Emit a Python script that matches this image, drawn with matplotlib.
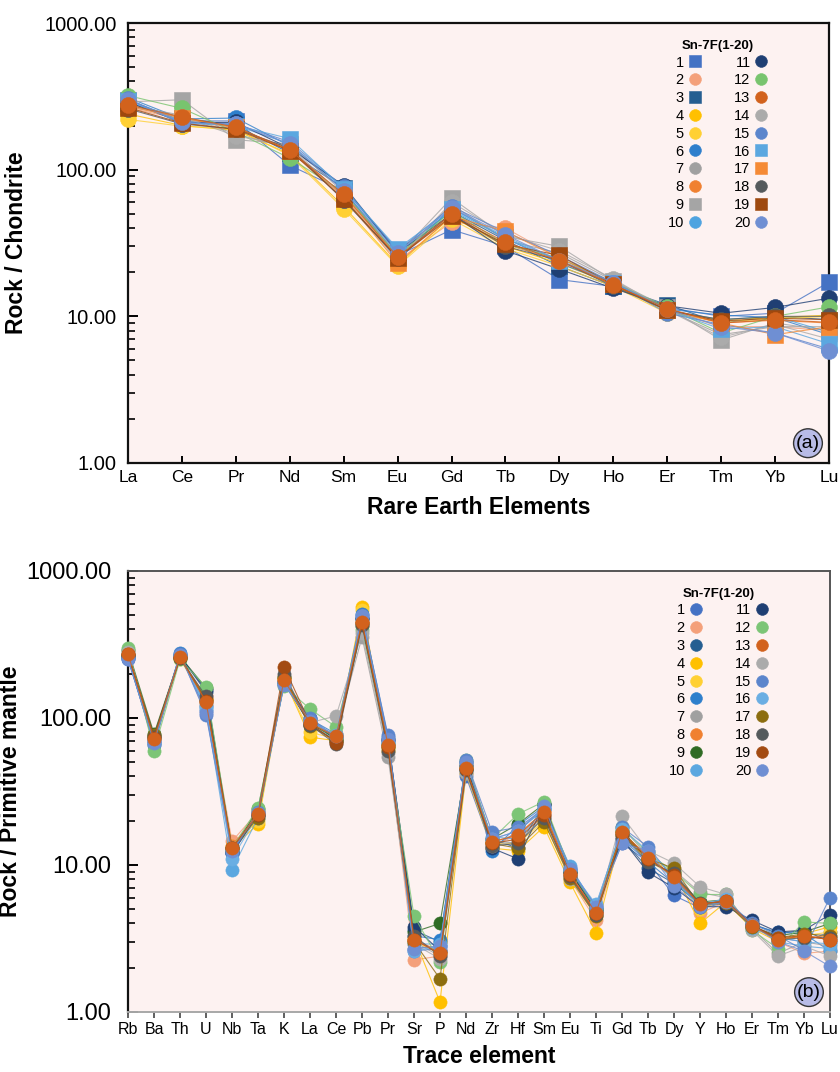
import matplotlib
matplotlib.use('Agg')
import matplotlib.pyplot as plt
from matplotlib.lines import Line2D
from matplotlib.ticker import LogLocator, FixedLocator, NullFormatter

plt.rcParams['font.family'] = ['Liberation Sans', 'DejaVu Sans']

# --- data -----------------------------------------------------------------
ree = ['La', 'Ce', 'Pr', 'Nd', 'Sm', 'Eu', 'Gd', 'Tb', 'Dy', 'Ho', 'Er', 'Tm', 'Yb', 'Lu']
trace = ['Rb', 'Ba', 'Th', 'U', 'Nb', 'Ta', 'K', 'La', 'Ce', 'Pb', 'Pr', 'Sr', 'P', 'Nd',
         'Zr', 'Hf', 'Sm', 'Eu', 'Ti', 'Gd', 'Tb', 'Dy', 'Y', 'Ho', 'Er', 'Tm', 'Yb', 'Lu']
samples = [str(i) for i in range(1, 21)]

# chondrite normalised REE, samples 1-20
ree_vals = [
    [300, 215, 215, 107, 72, 26, 39, 30, 17.8, 16, 11.5, 10, 10.5, 17.1],
    [265, 220, 190, 140, 66, 24, 44, 40, 25, 17, 11, 8.5, 8.5, 8.0],
    [285, 225, 200, 130, 75, 28, 52, 33, 22, 16, 12, 9, 10, 9.5],
    [240, 200, 185, 128, 56, 22.5, 48, 30, 23, 16.5, 10.8, 9.5, 9.8, 10.2],
    [220, 198, 190, 125, 54, 22, 46, 29, 22, 16, 10.5, 9.2, 9.6, 10.0],
    [310, 222, 225, 145, 73, 24, 55, 34, 23, 16.8, 11.2, 10.2, 9.8, 7.5],
    [275, 235, 175, 140, 62, 25, 58, 33, 27, 17.5, 11, 7.5, 8.5, 8.5],
    [280, 226, 192, 135, 67, 25, 49, 31, 24, 16.3, 11.2, 9, 9.4, 9.0],
    [290, 300, 160, 150, 70, 26, 64, 35, 30, 17.5, 11.5, 6.9, 9, 8],
    [300, 215, 200, 150, 75, 27, 53, 34, 24, 17, 11, 9.5, 10, 7.8],
    [290, 210, 210, 140, 78, 27, 50, 28, 21, 15.5, 11.8, 10.5, 11.5, 13.3],
    [320, 262, 180, 120, 70, 26, 52, 31, 25, 17, 11.5, 7.7, 10, 11.6],
    [276, 229, 195, 136, 68, 25.4, 50, 32, 24, 16.4, 11.3, 9.0, 9.5, 9.1],
    [270, 230, 170, 145, 65, 24, 60, 36, 28, 18, 11, 7.2, 8.8, 7.0],
    [305, 205, 205, 155, 76, 28, 56, 37.6, 26, 17, 10.5, 8.8, 7.7, 6.0],
    [295, 210, 200, 163, 74, 29, 54, 35, 24, 17, 11.0, 8.2, 8.5, 6.5],
    [270, 225, 195, 135, 65, 23, 48, 38, 25, 16.5, 11, 9.0, 7.5, 8.5],
    [260, 205, 190, 140, 62, 25, 50, 30, 24, 16, 11, 9.5, 10, 10],
    [265, 208, 188, 135, 63, 25, 48, 31, 26, 16.5, 11, 9.3, 9.7, 9.5],
    [300, 210, 205, 150, 72, 27, 55, 36, 24, 17, 11.2, 8.5, 7.7, 5.8],
]

# primitive mantle normalised trace elements, samples 1-20
trace_vals = [
    [250, 70, 268, 112, 12.5, 22, 170, 95, 73, 480, 70, 2.7, 2.8, 40, 13, 17, 24, 9.2, 5.0, 14, 10.5, 6.2, 5.1, 5.5, 3.8, 3.2, 3.0, 3.5],
    [265, 74, 255, 140, 14.5, 23, 180, 90, 76, 440, 64, 2.26, 2.4, 46, 13.5, 16, 22, 8.0, 4.2, 15.5, 12, 8, 4.7, 5.6, 3.9, 3.0, 2.5, 2.6],
    [260, 65, 265, 150, 12, 22, 175, 100, 70, 470, 72, 3.6, 3.0, 50, 15, 13, 26, 9, 5.0, 15, 9.5, 7.5, 5.5, 5.6, 4.0, 3.4, 3.6, 3.0],
    [270, 75, 255, 135, 13, 19, 185, 74, 70, 569, 60, 3.2, 1.17, 42, 13, 12.5, 18.2, 7.6, 3.47, 17, 11, 9, 4.0, 5.6, 3.7, 3.0, 3.4, 3.8],
    [265, 73, 250, 130, 13.5, 20, 180, 80, 72, 540, 62, 3.0, 2.5, 44, 14, 14, 20, 8.0, 4.5, 16, 10.8, 8.3, 5.0, 5.8, 3.8, 3.1, 3.3, 3.5],
    [255, 68, 275, 120, 12, 23, 175, 98, 78, 510, 74, 3.3, 3.1, 50, 12.5, 18.6, 25, 9.6, 5.2, 15, 10.5, 7.5, 5.4, 5.6, 3.9, 3.5, 3.4, 2.6],
    [275, 72, 260, 125, 12.5, 22, 178, 90, 78, 355, 54, 3.0, 2.4, 42, 14.5, 14.1, 22, 8.5, 4.8, 18, 11.5, 9.2, 6.5, 6.0, 3.7, 2.5, 3.0, 2.8],
    [270, 73, 258, 132, 13.5, 22.5, 185, 91, 75, 455, 66, 3.1, 2.6, 46, 14.2, 16.2, 23, 8.8, 4.8, 16.5, 11.5, 8.1, 5.4, 5.7, 3.8, 3.2, 3.2, 3.3],
    [290, 78, 262, 160, 12.5, 24, 190, 92, 72, 420, 66, 3.5, 4.0, 47, 15, 19, 26, 9, 5.0, 17, 11, 8.5, 5.6, 5.8, 3.8, 3.3, 3.5, 4.0],
    [260, 66, 270, 115, 9.3, 21, 170, 96, 74, 470, 68, 2.9, 2.9, 44, 15.5, 15, 24, 9.8, 5.1, 14.5, 12, 7.8, 5.3, 5.6, 3.9, 3.0, 2.8, 2.7],
    [262, 75, 262, 155, 12, 22, 175, 90, 70, 480, 71, 3.8, 2.6, 48, 13, 11, 25.8, 9, 4.9, 15, 8.9, 7, 5.2, 5.2, 4.2, 3.5, 3.6, 4.6],
    [299, 60, 250, 163, 13, 24.5, 165, 115, 87, 396, 62, 4.5, 2.19, 52, 15, 22.2, 27, 9.3, 5.0, 18, 12, 9, 6.3, 6.3, 3.6, 2.7, 4.1, 4.0],
    [272, 72, 260, 129, 13, 22.3, 182, 92, 75, 450, 65.5, 3.1, 2.5, 45.7, 14.4, 15.9, 23, 8.7, 4.7, 16.8, 11.2, 8.3, 5.4, 5.7, 3.85, 3.1, 3.3, 3.1],
    [280, 70, 258, 128, 13, 22, 178, 93, 103, 380, 58, 2.9, 2.3, 43, 13.5, 14.5, 21, 8.0, 4.6, 21.5, 12.5, 10.3, 7.1, 6.3, 3.6, 2.4, 2.8, 2.4],
    [255, 70, 272, 105, 12, 23, 170, 100, 74, 500, 76, 2.6, 2.7, 52, 16.8, 18, 24, 9.2, 5.3, 18, 13.3, 8, 5.4, 5.8, 4.0, 3.3, 2.63, 6.0],
    [265, 72, 265, 118, 11, 22, 172, 94, 76, 490, 69, 2.6, 2.8, 44, 15, 17, 24, 9.3, 5.4, 17.5, 12.5, 8.4, 5.4, 5.9, 3.7, 3.2, 3.0, 2.9],
    [270, 76, 255, 135, 13, 21, 190, 88, 70, 440, 64, 3.0, 1.68, 45, 14, 13, 19.6, 8.2, 4.5, 16, 11, 9.5, 5.3, 5.5, 3.8, 3.2, 3.4, 3.3],
    [268, 74, 256, 140, 13, 22, 200, 90, 66, 430, 60, 3.3, 2.4, 44, 13.5, 14, 21, 8.4, 4.6, 16, 10.5, 8.8, 5.5, 5.6, 3.9, 3.1, 3.2, 3.2],
    [272, 73, 260, 130, 13, 22, 223, 92, 68, 445, 63, 3.1, 2.5, 45, 14, 15, 22, 8.5, 4.7, 16.5, 11, 8.5, 5.4, 5.7, 3.9, 3.2, 3.3, 3.1],
    [250, 68, 270, 108, 12.5, 22.5, 168, 96, 75, 490, 72, 2.7, 2.8, 50, 15, 17, 25, 9.4, 5.2, 14, 12.5, 7.2, 5.2, 5.6, 3.9, 3.0, 2.6, 2.04],
]

# --- styles -----------------------------------------------------------------
colors_a = ['#4472C4', '#F4A07A', '#255E91', '#FFC000', '#FFD033', '#2E7FCC', '#A0A0A0',
            '#F08030', '#A5A5A5', '#4EA3E0', '#1F3F73', '#78C46E', '#D2621D', '#ABABAB',
            '#5B85CC', '#5BA7E0', '#F58A35', '#555A5C', '#9E480E', '#6F8FD3']
markers_a = ['s', 'o', 's', 'o', 'o', 'o', 'o', 'o', 's', 'o',
             'o', 'o', 'o', 'o', 'o', 's', 's', 'o', 's', 'o']
colors_b = ['#4472C4', '#F4A07A', '#255E91', '#FFC000', '#FFD033', '#2E7FCC', '#A0A0A0',
            '#F08030', '#2F6B24', '#5BA7E0', '#1F3F73', '#7CC576', '#D2621D', '#ABABAB',
            '#5B85CC', '#6AAEE3', '#8C6D0F', '#555A5C', '#A34B12', '#6F8FD3']

bg = '#FDF2F1'

fig = plt.figure(figsize=(8.4, 10.72), dpi=100)
ax1 = fig.add_axes([0.1524, 0.5681, 0.8345, 0.4104])
ax2 = fig.add_axes([0.1524, 0.0560, 0.8357, 0.4114])


def draw(ax, names, vals, colors, markers, ms):
    x = list(range(len(names)))
    handles = []
    for i, v in enumerate(vals):
        z = 5 if i == 12 else 3 + i * 0.01
        ax.plot(x, v, color=colors[i], lw=0.8, alpha=0.8, zorder=z, clip_on=False)
        ax.plot(x, v, ls='none', marker=markers[i], ms=ms if markers[i] == 'o' else ms - 0.5,
                mfc=colors[i], mec=colors[i], mew=0.4, zorder=z + 0.005, clip_on=False)
        handles.append(Line2D([], [], ls='none', marker=markers[i], ms=8.5,
                              mfc=colors[i], mec=colors[i], mew=0.4))
    ax.set_xlim(0, len(names) - 1)
    ax.set_yscale('log')
    ax.set_ylim(1, 1000)
    ax.set_facecolor(bg)
    ax.xaxis.set_major_locator(FixedLocator(x))
    ax.set_xticklabels(names)
    ax.yaxis.set_major_locator(FixedLocator([1, 10, 100, 1000]))
    ax.set_yticklabels(['1.00', '10.00', '100.00', '1000.00'])
    ax.yaxis.set_minor_locator(LogLocator(base=10, subs=range(2, 10)))
    ax.yaxis.set_minor_formatter(NullFormatter())
    leg = ax.legend(handles, samples, ncol=2, markerfirst=False, frameon=False,
                    title='Sn-7F(1-20)', loc='upper right',
                    bbox_to_anchor=(0.912, 0.962), borderaxespad=0, borderpad=0,
                    fontsize=10.5, handlelength=0.8, handletextpad=0.35,
                    columnspacing=2.3, labelspacing=0.26,
                    title_fontproperties={'weight': 'bold', 'size': 9.5})
    leg.set_zorder(10)
    return leg


draw(ax1, ree, ree_vals, colors_a, markers_a, 11.5)
draw(ax2, trace, trace_vals, colors_b, ['o'] * 20, 9.5)

# panel a axes styling
for s in ax1.spines.values():
    s.set_linewidth(1.6)
    s.set_color('#111111')
ax1.tick_params(axis='x', direction='in', length=5, width=1.4, labelsize=12.5, pad=5)
ax1.tick_params(axis='y', which='major', direction='in', length=7, width=1.4, labelsize=14.5, pad=8)
ax1.tick_params(axis='y', which='minor', direction='in', length=5, width=1.2)
ax1.set_ylabel('Rock / Chondrite', fontsize=16.5, fontweight='bold')
ax1.yaxis.set_label_coords(-0.143, 0.5)
ax1.set_xlabel('Rare Earth Elements', fontsize=16.5, fontweight='bold', labelpad=8)

# panel b axes styling
ax2.spines['left'].set_color('#111111')
ax2.spines['left'].set_linewidth(1.6)
ax2.spines['top'].set_color('#555555')
ax2.spines['right'].set_color('#555555')
ax2.spines['top'].set_linewidth(1.4)
ax2.spines['right'].set_linewidth(1.4)
ax2.spines['bottom'].set_color('#A8A8A8')
ax2.spines['bottom'].set_linewidth(1.4)
ax2.tick_params(axis='x', direction='out', length=4, width=1.2, color='#444444', labelsize=11.5, pad=3)
ax2.tick_params(axis='y', which='major', direction='in', length=7, width=1.4, labelsize=17, pad=12)
ax2.tick_params(axis='y', which='minor', direction='in', length=5, width=1.2)
ax2.set_ylabel('Rock / Primitive mantle', fontsize=16.5, fontweight='bold')
ax2.yaxis.set_label_coords(-0.151, 0.5)
ax2.set_xlabel('Trace element', fontsize=16.5, fontweight='bold', labelpad=6)

# panel tags
for ax, tag in [(ax1, '(a)'), (ax2, '(b)')]:
    ax.text(0.97, 0.045, tag, transform=ax.transAxes, ha='center', va='center',
            fontsize=14, zorder=12,
            bbox=dict(boxstyle='circle,pad=0.12', fc='#B8BBE6', ec='#333333', lw=1.0))

fig.savefig('out.png', dpi=100, facecolor='white')
